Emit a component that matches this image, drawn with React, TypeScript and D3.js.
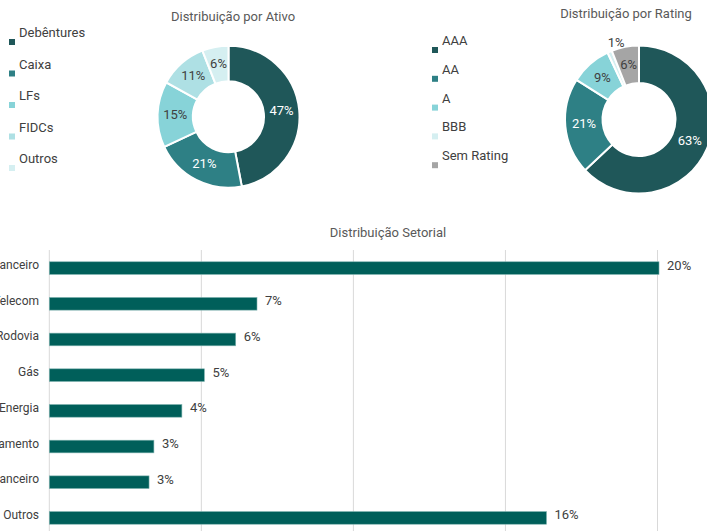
import React from "react";
import * as d3 from "d3";

const ativoLabels = ["Debêntures", "Caixa", "LFs", "FIDCs", "Outros"];
const ativoValues = [47, 21, 15, 11, 6];

const ratingLabels = ["AAA", "AA", "A", "BBB", "Sem Rating"];
const ratingValues = [63, 21, 9, 1, 6];

const setorLabels = ["Financeiro", "Telecom", "Rodovia", "Gás", "Energia", "Saneamento", "Não Financeiro", "Outros"];
const setorValues = [20.05, 6.83, 6.13, 5.1, 4.36, 3.44, 3.28, 16.35];
const setorText = ["20%", "7%", "6%", "5%", "4%", "3%", "3%", "16%"];
const gridTicks = [0, 5, 10, 15, 20];

const ativoColors = ["#1f5759", "#2e8085", "#87d3d8", "#aee0e4", "#d5eff1"];
const ratingColors = ["#1f5759", "#2e8085", "#87d3d8", "#d5eff1", "#a5a5a5"];
const darkSlice = [true, true, false, false, false];

const FONT = "Roboto, 'DejaVu Sans', sans-serif";
const TXT = "#404040";

function Donut({ cx, cy, R, r, values, colors, textDark, outsideIdx }: any) {
  const pie = d3.pie<number>().sort(null).value((d) => d)(values);
  const arc = d3.arc<any>().innerRadius(r).outerRadius(R);
  const labelArc = d3.arc<any>().innerRadius((R + r) / 2).outerRadius((R + r) / 2);
  return (
    <g transform={`translate(${cx},${cy})`}>
      {pie.map((p, i) => (
        <path key={i} d={arc(p) as string} fill={colors[i]} stroke="#fff" strokeWidth={2} />
      ))}
      {pie.map((p, i) => {
        let [x, y] = labelArc.centroid(p);
        let anchor = "middle";
        if (i === outsideIdx) {
          const a = (p.startAngle + p.endAngle) / 2;
          x = Math.sin(a) * (R + 5);
          y = -Math.cos(a) * (R + 5) - 4;
          anchor = "start";
        }
        return (
          <text key={i} x={x} y={y - 1} textAnchor={anchor} dominantBaseline="central"
            fontSize={13} fontFamily={FONT} fill={textDark[i] && i !== outsideIdx ? "#ffffff" : TXT}>
            {`${values[i]}%`}
          </text>
        );
      })}
    </g>
  );
}

function Legend({ x, y0, step, labels, colors }: any) {
  return (
    <g>
      {labels.map((l: string, i: number) => (
        <g key={l} transform={`translate(${x},${y0 + i * step})`}>
          <rect x={0} y={2} width={6} height={6} fill={colors[i]} />
          <text x={10} y={0} fontSize={13} fontFamily={FONT} fill={TXT}>{l}</text>
        </g>
      ))}
    </g>
  );
}

export default function App() {
  const W = 707, H = 531;
  const x = d3.scaleLinear().domain([0, 20]).range([49.3, 657.5]);
  const y = d3.scaleBand().domain(setorLabels.map((d, i) => String(i))).range([250, 536]).paddingInner(0.645).paddingOuter(0.33);
  return (
    <svg width={W} height={H} style={{ position: "absolute", left: 0, top: 0, background: "#fff" }}>
      <text x={233} y={21} textAnchor="middle" fontSize={13} fontFamily={FONT} fill="#595959">Distribuição por Ativo</text>
      <Legend x={9} y0={37} step={31.5} labels={ativoLabels} colors={ativoColors} />
      <Donut cx={228.5} cy={116.7} R={71} r={35.5} values={ativoValues} colors={ativoColors} textDark={darkSlice} outsideIdx={-1} />

      <text x={626} y={18} textAnchor="middle" fontSize={13} fontFamily={FONT} fill="#595959">Distribuição por Rating</text>
      <Legend x={432} y0={45} step={28.8} labels={ratingLabels} colors={ratingColors} />
      <Donut cx={639} cy={119.5} R={74} r={36.5} values={ratingValues} colors={ratingColors} textDark={darkSlice} outsideIdx={3} />

      <text x={388} y={237} textAnchor="middle" fontSize={13} fontFamily={FONT} fill="#595959">Distribuição Setorial</text>
      {gridTicks.map((t) => (
        <line key={t} x1={x(t)} x2={x(t)} y1={250} y2={531} stroke="#d9d9d9" strokeWidth={1} />
      ))}
      {setorValues.map((v, i) => {
        const yy = y(String(i)) as number;
        return (
          <g key={i}>
            <rect x={x(0)} y={yy} width={x(v) - x(0)} height={y.bandwidth()} fill="#005f5a" stroke="#7fb3b0" strokeWidth={0.6} />
            <text x={x(v) + 8} y={yy + y.bandwidth() / 2 - 3} dominantBaseline="central" fontSize={13} fontFamily={FONT} fill={TXT}>{setorText[i]}</text>
            <text x={39} y={yy + y.bandwidth() / 2 - 3} dominantBaseline="central" textAnchor="end" fontSize={12} fontFamily={FONT} fill={TXT}>{setorLabels[i]}</text>
          </g>
        );
      })}
    </svg>
  );
}
